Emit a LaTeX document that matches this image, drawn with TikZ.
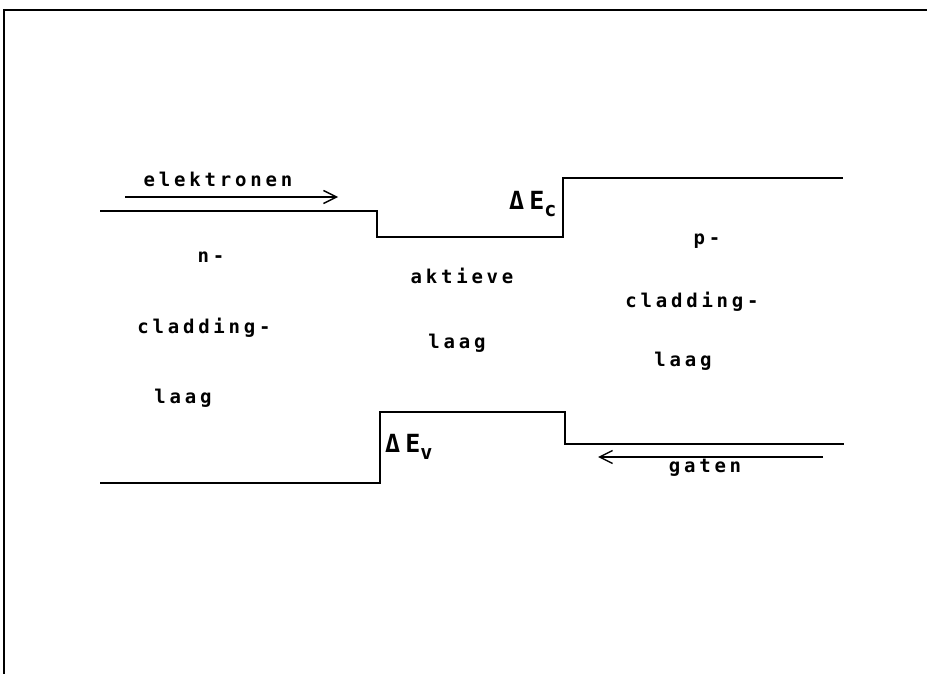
\documentclass[tikz,border=0pt]{standalone}
\usepackage{fontspec}
\newfontfamily\plotfont[LetterSpace=20,BoldFont={DejaVu Sans Mono Bold}]{DejaVu Sans Mono}
\usetikzlibrary{arrows.meta}
\tikzset{
  lbl/.style={font=\plotfont\bfseries\fontsize{19}{22}\selectfont,anchor=base,inner sep=0pt},
  dlbl/.style={font=\plotfont\bfseries\fontsize{25}{28}\selectfont,anchor=base west,inner sep=0pt},
  band/.style={line width=1.8pt},
  flow/.style={line width=1.4pt,-{Straight Barb[length=13pt,width=13pt,line width=1.4pt]}}
}
\newcommand{\lowsub}[1]{\raisebox{-7pt}{\fontsize{20}{22}\selectfont #1}}
\begin{document}
\begin{tikzpicture}[x=1pt,y=-1pt]
\useasboundingbox (0,0) rectangle (927,674);
% frame
\draw[line width=2.2pt] (4,674) -- (4,10) -- (927,10);
% conduction band
\draw[band] (100,211) -- (377,211) -- (377,237) -- (563,237) -- (563,178) -- (843,178);
% valence band
\draw[band] (100,483) -- (380,483) -- (380,412) -- (565,412) -- (565,444) -- (844,444);
% carriers
\coordinate (e1) at (125,197);
\coordinate (e2) at (338,197);
\draw[flow] (e1) -- (e2);
\node[lbl] (elek) at (218,186) {elektronen};
\coordinate (g1) at (823,457);
\coordinate (g2) at (598,457);
\draw[flow] (g1) -- (g2);
\node[lbl] (gaten) at (705,472) {gaten};
% offsets
\node[dlbl] (dec) at (509,209) {ΔE\lowsub{c}};
\node[dlbl] (dev) at (385,452) {ΔE\lowsub{v}};
% layers
\foreach \t/\x/\y in {n-/211/262,cladding-/204/333,laag/183/403,
  aktieve/462/283,laag/457/348,
  p-/707/244,cladding-/692/307,laag/683/366}{
  \node[lbl] at (\x,\y) {\t};}
\end{tikzpicture}
\end{document}
